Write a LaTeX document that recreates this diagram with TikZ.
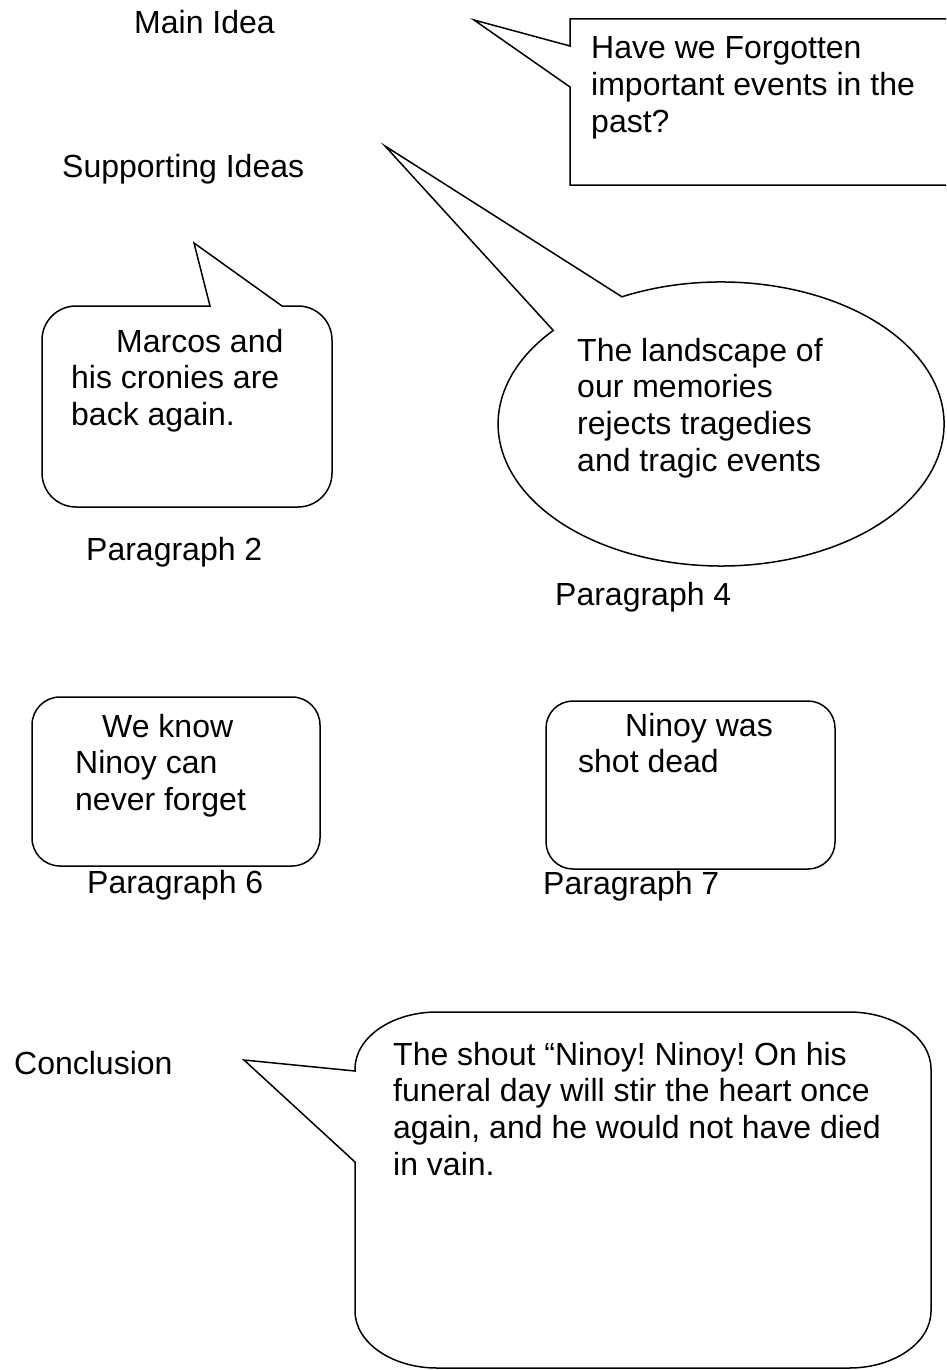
\documentclass[tikz,border=0pt]{standalone}
\usepackage{fontspec}
\setmainfont{Liberation Sans}
\frenchspacing
\newcommand\bodyfont{\fontsize{32}{36.7}\selectfont\frenchspacing}
\newcommand\lines[1]{\parbox[t]{600pt}{\raggedright\bodyfont #1}}
\begin{document}
\begin{tikzpicture}[x=1pt,y=-1pt,
  callout/.style={draw=black, line width=1.5pt, line join=miter},
  label/.style={anchor=base west, inner sep=0pt, font=\bodyfont},
  bubbletext/.style={anchor=base west, inner sep=0pt}]
\useasboundingbox (0,0) rectangle (946,1370);
\clip (0,0) rectangle (946,1370);

% section headings
\node[label] (main)  at (134,34)   {Main Idea};
\node[label] (supp)  at (62,177)   {Supporting Ideas};
\node[label] (par2)  at (86,560)   {Paragraph 2};
\node[label] (par4)  at (555,605)  {Paragraph 4};
\node[label] (par6)  at (87,893)   {Paragraph 6};
\node[label] (par7)  at (543,894)  {Paragraph 7};
\node[label] (concl) at (14,1074)  {Conclusion};

% main idea: rectangular callout running off the right edge
\draw[callout] (570,46) -- (474,20) -- (570,87) -- (570,185)
  -- (960,185) -- (960,19) -- (570,19) -- cycle;
\node[bubbletext] (q1) at (591,59)
  {\lines{Have we Forgotten\\important events in the\\past?}};

% paragraph 2: rounded callout pointing up
\draw[callout] (282,306) -- (298,306)
  arc[start angle=90, end angle=0, radius=34pt] -- (332,473)
  arc[start angle=0, end angle=-90, radius=34pt] -- (76,507)
  arc[start angle=270, end angle=180, radius=34pt] -- (42,340)
  arc[start angle=180, end angle=90, radius=34pt] -- (210,306)
  -- (194,243) -- cycle;
\node[bubbletext] (q2) at (71,352)
  {\lines{\hspace*{45pt}Marcos and\\his cronies are\\back again.}};

% paragraph 4: oval callout with a long pointer
\draw[callout] (385,146) -- (621.9,296.8)
  arc[start angle=116.4, end angle=-221.2, x radius=223pt, y radius=142pt]
  -- cycle;
\node[bubbletext] (q4) at (577,361)
  {\lines{The landscape of\\our memories\\rejects tragedies\\and tragic events}};

% paragraphs 6 and 7: plain rounded boxes
\draw[callout, rounded corners=28pt] (32,697) rectangle (320,866);
\node[bubbletext] (q6) at (75,737)
  {\lines{\hspace*{27pt}We know\\Ninoy can\\never forget}};

\draw[callout, rounded corners=27pt] (546,701) rectangle (835,869);
\node[bubbletext] (q7) at (578,736)
  {\lines{\hspace*{47pt}Ninoy was\\shot dead}};

% conclusion: large rounded callout pointing left
\draw[callout] (355,1071) -- (244,1060) -- (355,1162) -- (355,1311)
  arc[start angle=180, end angle=270, x radius=82pt, y radius=57pt] -- (849,1368)
  arc[start angle=270, end angle=360, x radius=82pt, y radius=57pt] -- (931,1069)
  arc[start angle=0, end angle=90, x radius=82pt, y radius=57pt] -- (437,1012)
  arc[start angle=90, end angle=180, x radius=82pt, y radius=57pt] -- cycle;
\node[bubbletext] (q8) at (393,1065)
  {\lines{The shout “Ninoy! Ninoy! On his\\funeral day will stir the heart once\\again, and he would not have died\\in vain.}};
\end{tikzpicture}
\end{document}
